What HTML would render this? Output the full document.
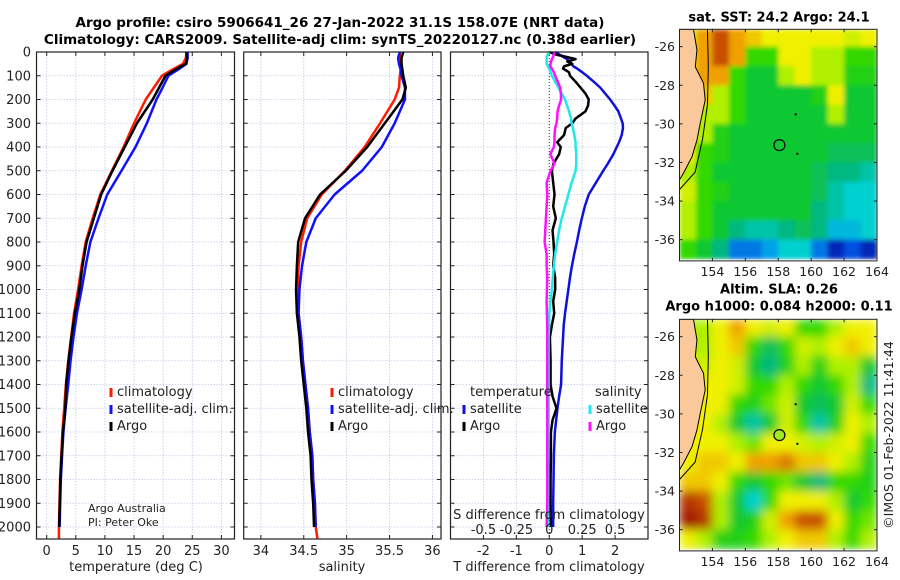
<!DOCTYPE html>
<html><head><meta charset="utf-8"><title>Argo profile</title>
<style>
html,body{margin:0;padding:0;background:#fff;}
svg{display:block;font-family:"DejaVu Sans","Liberation Sans",sans-serif;}
</style></head>
<body>
<svg id="fig" xmlns="http://www.w3.org/2000/svg" width="900" height="580" viewBox="0 0 900 580">
<defs>
<filter id="blur" x="0" y="0" width="1" height="1"><feGaussianBlur stdDeviation="5" edgeMode="duplicate"/></filter>
<filter id="blurS" x="0" y="0" width="1" height="1"><feGaussianBlur stdDeviation="2.5" edgeMode="duplicate"/></filter>
<clipPath id="clipTop"><rect x="679.5" y="29.3" width="197.5" height="231.7"/></clipPath>
<clipPath id="clipBot"><rect x="679.5" y="319.3" width="197.5" height="231.4"/></clipPath>
</defs>
<text x="340" y="27" text-anchor="middle" font-weight="bold" font-size="13.5">Argo profile: csiro 5906641_26 27-Jan-2022 31.1S 158.07E (NRT data)</text>
<text x="340" y="44" text-anchor="middle" font-weight="bold" font-size="13.5">Climatology: CARS2009. Satellite-adj clim: synTS_20220127.nc (0.38d earlier)</text>
<g id="g"></g>
</svg>
<script>
// ---------- profile data ----------
const profDepths = [0,25,50,75,100,150,200,300,400,500,600,700,800,900,1000,1100,1200,1300,1400,1500,1600,1700,1800,1900,2000,2050];
const tempClim = [24.0,23.9,23.4,21.5,19.8,18.4,17.0,15.0,13.2,11.2,9.2,7.9,6.7,6.0,5.4,4.7,4.2,3.7,3.3,3.0,2.7,2.5,2.3,2.2,2.1,2.1];
const tempSat  = [24.2,24.2,24.0,22.5,20.9,19.9,18.85,17.2,15.25,12.84,10.4,8.9,7.5,6.7,6.0,5.2,4.6,4.1,3.7,3.25,2.87,2.64,2.43,2.32,2.22,null];
const tempArgo = [24.0,24.1,23.9,22.0,20.4,19.3,18.2,15.5,13.4,11.3,9.35,8.1,6.85,6.15,5.6,4.85,4.25,3.75,3.35,3.2,2.8,2.55,2.35,2.25,2.15,null];
const salClim  = [35.62,35.62,35.63,35.63,35.62,35.61,35.56,35.39,35.21,34.98,34.71,34.54,34.47,34.44,34.43,34.44,34.47,34.49,34.52,34.55,34.57,34.60,34.61,34.63,34.64,34.66];
const salSat   = [35.62,35.60,35.61,35.63,35.64,35.68,35.68,35.56,35.41,35.18,34.86,34.64,34.53,34.48,34.45,34.44,34.47,34.49,34.52,34.55,34.57,34.60,34.61,34.63,34.64,null];
const salArgo  = [35.66,35.64,35.64,35.65,35.66,35.69,35.65,35.445,35.24,34.99,34.69,34.515,34.435,34.42,34.41,34.42,34.45,34.47,34.50,34.53,34.55,34.58,34.59,34.61,34.62,null];

const diffDepths = [0,10,20,30,40,50,60,70,85,100,125,150,175,200,225,250,280,300,320,350,380,400,430,470,500,550,600,650,700,750,800,850,900,950,1000,1050,1100,1150,1200,1300,1400,1450,1500,1550,1600,1700,1800,1900,2000];
const tDiffSat  = [0.18,0.3,0.42,0.54,0.62,0.68,0.73,0.85,1.0,1.14,1.35,1.55,1.7,1.85,1.98,2.1,2.18,2.23,2.24,2.2,2.12,2.05,1.95,1.78,1.64,1.42,1.2,1.08,0.99,0.91,0.84,0.76,0.69,0.63,0.58,0.53,0.48,0.44,0.42,0.38,0.36,0.3,0.25,0.21,0.17,0.14,0.13,0.12,0.12];
const tDiffArgo = [0,0.18,0.5,0.8,0.55,0.7,0.45,0.42,0.6,0.63,0.8,0.95,1.1,1.2,1.18,1.1,0.8,0.7,0.5,0.45,0.24,0.35,0.3,0.13,0.08,0.12,0.16,0.12,0.2,0.1,0.13,0.15,0.12,0.18,0.18,0.12,0.15,0.08,0.02,0.04,0.04,0.1,0.22,0.1,0.05,0.05,0.04,0.04,0.05];
const sDiffSat  = [0,-0.01,-0.02,-0.02,-0.02,-0.02,-0.01,0,0.01,0.02,0.045,0.07,0.095,0.12,0.135,0.15,0.165,0.17,0.18,0.19,0.2,0.2,0.205,0.205,0.2,0.17,0.145,0.12,0.095,0.075,0.06,0.045,0.035,0.027,0.02,0.01,0,0,-0.005,-0.005,-0.005,-0.005,-0.005,-0.005,-0.005,-0.008,-0.008,-0.01,-0.01];
const sDiffArgo = [0.04,0.035,0.03,0.02,0.015,0.01,0.008,0.02,0.035,0.045,0.065,0.083,0.088,0.09,0.075,0.063,0.06,0.055,0.045,0.04,0.04,0.035,0.008,0.04,0.01,-0.02,-0.015,-0.02,-0.025,-0.03,-0.035,-0.02,-0.02,-0.015,-0.018,-0.02,-0.018,-0.015,-0.015,-0.015,-0.015,-0.015,-0.015,-0.015,-0.015,-0.015,-0.015,-0.015,-0.02];

const depthTicks = [0,100,200,300,400,500,600,700,800,900,1000,1100,1200,1300,1400,1500,1600,1700,1800,1900,2000];
const tempTicks = [0,5,10,15,20,25,30];
const salTicks = [34,34.5,35,35.5,36];
const salTickLabels = ["34","34.5","35","35.5","36"];
const tDiffTicks = [-2,-1,0,1,2];
const sDiffTicks = [-0.5,-0.25,0,0.25,0.5];
const sDiffTickLabels = ["-0.5","-0.25","0","0.25","0.5"];

// ---------- map data (1-degree cells, colour level 0..11) ----------
const mapLons = [152,153,154,155,156,157,158,159,160,161,162,163];
const mapLats = [-25,-26,-27,-28,-29,-30,-31,-32,-33,-34,-35,-36];
const sstLevels = [
[8,9,10,9,8.5,8,8,8,8,8,7.5,8],
[8,9,10,9,6,6,8,8,7,7,6,6],
[8,9,9,6,5,5,7,8,7,7,5.5,5.5],
[8,8.5,7,6,5,5,5,5,5.5,8,5,5],
[8,7,7,6,5,5,5,5,5,7,5,5],
[8,7,5.5,5,5,5,5,5,5,5,5,5],
[8,6,5.5,5,5,5,5,5,5,4.5,4.5,4.5],
[7,6,5,5,5,5,5,5,4.5,4,4,3.5],
[7.5,6,5.5,5,5,5,5,5,4.5,3.5,3,3],
[7,6,5,5,5,5,5,5,4,3.5,3,3],
[7,6,5,4,3.5,3.5,4,4.5,4,2.5,2.5,3],
[6,5,4,1.5,1.5,2,3,3,1.5,0.5,1,0.5]];
const slaLevels = [
[7,7,8,9,8,7.5,8,6,6,7,8,8],
[7,7,8,8.5,6,4.5,6,7.5,7,8,8.5,8],
[7.5,7.5,8,7.5,5,4,5.5,7,5.5,7,7,5],
[8,8,8,7.5,6,6,7,6,5,6,7,4],
[8,8,8,6,5.5,6.5,7.5,5,4.5,5,7.5,6],
[8,8,7,5,3.5,5,7.5,6,3.5,5.5,8,7],
[8,8,8,7,6.5,8,8,7.5,7,7.5,8,6],
[8,8.5,8.5,8,9,9,9.5,8.5,8.5,8,7,5.5],
[8.5,8.5,8,6,5,6,6.5,5,4,6,6,5.5],
[10.5,10,7,5,3,6,8,8,8,7,5,6],
[11,10.5,7,5,5.5,7.5,9,10,10,8,6,6.5],
[8,7,5.5,5.5,6,7,8,8.5,8.5,7,6,7]];
const coastLon = [152,152.85,153.06,152.96,153.46,153.56,153.26,153.06,152.76,152.24,152.0];
const coastLat = [-25.1,-25.1,-26.17,-27.04,-27.9,-28.76,-29.97,-30.84,-31.7,-32.56,-32.9];
const isoLon = [153.7,153.75,153.7,153.4,152.95,152.0];
const isoLat = [-25.1,-27,-29,-30.8,-32.5,-33.4];
const lonTicks = [154,156,158,160,162,164];
const latTicks = [-26,-28,-30,-32,-34,-36];
const argoLon = 158.07, argoLat = -31.1;

// ---------- helpers ----------
const NS = "http://www.w3.org/2000/svg";
const G = document.getElementById('g');
function mk(tag, attrs, parent){ const e=document.createElementNS(NS,tag); for(const k in attrs) e.setAttribute(k,attrs[k]); (parent||G).appendChild(e); return e; }
const Y0=52, YB=539;
function yD(d){ return Y0 + d*0.2375; }
function scaleX(p, v){ return p.x0 + (v-p.lo)/(p.hi-p.lo)*(p.x1-p.x0); }

const panels = [
 {name:'temperature-panel', x0:36.5, x1:234.5, lo:-1.75, hi:32.25},
 {name:'salinity-panel', x0:243.7, x1:441, lo:33.8, hi:36.1},
 {name:'difference-panel', x0:450.5, x1:648, lo:-3, hi:3}
];
const sPanel = {x0:450.5, x1:648, lo:-0.75, hi:0.75};

function drawFrame(p, ticks, labels, grp){
  ticks.forEach(t=>{ const x=scaleX(p,t);
    const l=mk('line',{x1:x,y1:Y0,x2:x,y2:YB,stroke:'#c4c8e6','stroke-width':0.8,'stroke-dasharray':'1.5,1.5'},grp);
     
    const t1=mk('line',{x1:x,y1:YB,x2:x,y2:YB-4,stroke:'#222','stroke-width':1},grp);
     
    mk('line',{x1:x,y1:Y0,x2:x,y2:Y0+4,stroke:'#222','stroke-width':1},grp);
  });
  depthTicks.forEach(d=>{ const y=yD(d);
    const l=mk('line',{x1:p.x0,y1:y,x2:p.x1,y2:y,stroke:'#c4c8e6','stroke-width':0.8,'stroke-dasharray':'1.5,1.5'},grp);
     
    mk('line',{x1:p.x0,y1:y,x2:p.x0+4,y2:y,stroke:'#222','stroke-width':1},grp);
    mk('line',{x1:p.x1,y1:y,x2:p.x1-4,y2:y,stroke:'#222','stroke-width':1},grp);
  });
  if(labels){ ticks.forEach((t,i)=>{ const tx=mk('text',{x:scaleX(p,t),y:555,'text-anchor':'middle','font-size':13,fill:'#222'},grp); tx.textContent=labels[i];
      }); }
}
function drawLine(p, xs, ds, color, w, grp, name){
  let pts=[];
  xs.forEach((v,i)=>{ if(v!==null && v!==undefined) pts.push(scaleX(p,v).toFixed(2)+','+yD(ds[i]).toFixed(2)); });
  const e=mk('polyline',{points:pts.join(' '),fill:'none',stroke:color,'stroke-width':w,'stroke-linejoin':'round'},grp);
   
}
function legend(x,y,color,label,grp,name){
  const l=mk('line',{x1:x,y1:y-8,x2:x,y2:y+1,stroke:color,'stroke-width':3},grp);
   
  const t=mk('text',{x:x+6,y:y,'font-size':13,fill:'#222'},grp); t.textContent=label;
   
}

// ---------- panel 1: temperature ----------
const g1=mk('g',{});  
drawFrame(panels[0], tempTicks, tempTicks.map(String), g1);
drawLine(panels[0], tempClim, profDepths, '#ff1a00', 2.5, g1, 'temperature-climatology-line');
drawLine(panels[0], tempSat, profDepths, '#1010ff', 2.5, g1, 'temperature-satellite-line');
drawLine(panels[0], tempArgo, profDepths, '#000', 2.5, g1, 'temperature-argo-line');
mk('rect',{x:panels[0].x0,y:Y0,width:panels[0].x1-panels[0].x0,height:YB-Y0,fill:'none',stroke:'#222','stroke-width':1.2},g1);
depthTicks.forEach(d=>{ const t=mk('text',{x:31,y:yD(d)+4.5,'text-anchor':'end','font-size':13,fill:'#222'},g1); t.textContent=String(d);
    });
legend(111,396,'#ff1a00','climatology',g1,'legend-climatology');
legend(111,413,'#1010ff','satellite-adj. clim.',g1,'legend-satellite-adj');
legend(111,430,'#000','Argo',g1,'legend-argo');
let tt=mk('text',{x:88,y:512,'font-size':11,fill:'#222'},g1); tt.textContent='Argo Australia';  
tt=mk('text',{x:88,y:526,'font-size':11,fill:'#222'},g1); tt.textContent='PI: Peter Oke';  
tt=mk('text',{x:136,y:571,'text-anchor':'middle','font-size':13,fill:'#222'},g1); tt.textContent='temperature (deg C)';  

// ---------- panel 2: salinity ----------
const g2=mk('g',{});  
drawFrame(panels[1], salTicks, salTickLabels, g2);
drawLine(panels[1], salClim, profDepths, '#ff1a00', 2.5, g2, 'salinity-climatology-line');
drawLine(panels[1], salSat, profDepths, '#1010ff', 2.5, g2, 'salinity-satellite-line');
drawLine(panels[1], salArgo, profDepths, '#000', 2.5, g2, 'salinity-argo-line');
mk('rect',{x:panels[1].x0,y:Y0,width:panels[1].x1-panels[1].x0,height:YB-Y0,fill:'none',stroke:'#222','stroke-width':1.2},g2);
legend(332,396,'#ff1a00','climatology',g2,'legend-climatology');
legend(332,413,'#1010ff','satellite-adj. clim.',g2,'legend-satellite-adj');
legend(332,430,'#000','Argo',g2,'legend-argo');
tt=mk('text',{x:342,y:571,'text-anchor':'middle','font-size':13,fill:'#222'},g2); tt.textContent='salinity';  

// ---------- panel 3: differences ----------
const g3=mk('g',{});  
drawFrame(panels[2], tDiffTicks, tDiffTicks.map(String), g3);
const zx=scaleX(panels[2],0);
mk('line',{x1:zx,y1:Y0,x2:zx,y2:YB,stroke:'#333','stroke-width':1,'stroke-dasharray':'1,2'},g3);
drawLine(panels[2], tDiffSat, diffDepths, '#1010dd', 2.5, g3, 'tdiff-satellite-line');
drawLine(panels[2], tDiffArgo, diffDepths, '#000', 2.5, g3, 'tdiff-argo-line');
drawLine(sPanel, sDiffSat, diffDepths, '#22e8e8', 2.5, g3, 'sdiff-satellite-line');
drawLine(sPanel, sDiffArgo, diffDepths, '#ff10ff', 2.5, g3, 'sdiff-argo-line');
mk('rect',{x:panels[2].x0,y:Y0,width:panels[2].x1-panels[2].x0,height:YB-Y0,fill:'none',stroke:'#222','stroke-width':1.2},g3);
tt=mk('text',{x:470,y:396,'font-size':13,fill:'#222'},g3); tt.textContent='temperature';  
tt=mk('text',{x:595,y:396,'font-size':13,fill:'#222'},g3); tt.textContent='salinity';  
legend(464,413,'#1010dd','satellite',g3,'legend-tdiff-satellite');
legend(464,430,'#000','Argo',g3,'legend-tdiff-argo');
legend(590,413,'#22e8e8','satellite',g3,'legend-sdiff-satellite');
legend(590,430,'#ff10ff','Argo',g3,'legend-sdiff-argo');
tt=mk('text',{x:549,y:519,'text-anchor':'middle','font-size':13,fill:'#222'},g3); tt.textContent='S difference from climatology';  
sDiffTicks.forEach((s,i)=>{ const t=mk('text',{x:scaleX(sPanel,s),y:534,'text-anchor':'middle','font-size':13,fill:'#222'},g3); t.textContent=sDiffTickLabels[i];
    });
tt=mk('text',{x:549,y:571,'text-anchor':'middle','font-size':13,fill:'#222'},g3); tt.textContent='T difference from climatology';  

// ---------- maps ----------
const cmapStops = ['#000090','#0050e0','#00a0e8','#00d0d0','#00b880','#10c830','#30d800','#b0f000','#f0f000','#f0a000','#c85000','#a01800'];
function hex(c){ return [parseInt(c.substr(1,2),16),parseInt(c.substr(3,2),16),parseInt(c.substr(5,2),16)]; }
function cmap(v){ v=Math.max(0,Math.min(11,v)); const i=Math.min(10,Math.floor(v)), f=v-i; const a=hex(cmapStops[i]), b=hex(cmapStops[i+1]);
  return 'rgb('+a.map((x,k)=>Math.round(x+(b[k]-x)*f)).join(',')+')'; }
function drawMap(top, levels, name, filt, title1, title2, fillCircle){
  const m={x0:679.5,x1:877,y0:top,y1:top+231.6,lon0:152,lon1:164,lat0:-25.1,lat1:-37.1};
  const lx=lon=>m.x0+(lon-m.lon0)/(m.lon1-m.lon0)*(m.x1-m.x0);
  const ly=lat=>m.y0+(lat-m.lat0)/(m.lat1-m.lat0)*(m.y1-m.y0);
  const g=mk('g',{});  
  const cg=mk('g',{'clip-path':'url(#'+(top<100?'clipTop':'clipBot')+')'},g);
  const hg=mk('g',{filter:'url(#'+filt+')'},cg);
  levels.forEach((row,r)=>row.forEach((v,c)=>{
    const x=lx(mapLons[c]), y=ly(Math.min(mapLats[r],m.lat0)), y2=ly(mapLats[r]-1);
    const e=mk('rect',{x:x,y:y,width:lx(mapLons[c]+1)-x+0.5,height:y2-y+0.5,fill:cmap(v)},hg);
     
  }));
  const landPts=coastLon.map((lo,i)=>lx(lo)+','+ly(coastLat[i])).join(' ');
  const land=mk('polygon',{points:landPts,fill:'#f9c89b',stroke:'#000','stroke-width':1},cg);
   
  const iso=mk('polyline',{points:isoLon.map((lo,i)=>lx(lo)+','+ly(isoLat[i])).join(' '),fill:'none',stroke:'#000','stroke-width':1},cg);
   
  mk('rect',{x:lx(159.0),y:ly(-29.45),width:2,height:2,fill:'#000'},cg);
  mk('rect',{x:lx(159.1),y:ly(-31.5),width:2,height:2,fill:'#000'},cg);
  const circ=mk('circle',{cx:lx(argoLon),cy:ly(argoLat),r:5.5,fill:fillCircle?'#a0e820':'none',stroke:'#000','stroke-width':1.2},g);
   
  mk('rect',{x:m.x0,y:m.y0,width:m.x1-m.x0,height:m.y1-m.y0,fill:'none',stroke:'#222','stroke-width':1},g);
  lonTicks.forEach(lo=>{ const x=lx(lo);
    mk('line',{x1:x,y1:m.y1,x2:x,y2:m.y1-3,stroke:'#222'},g); mk('line',{x1:x,y1:m.y0,x2:x,y2:m.y0+3,stroke:'#222'},g);
    const t=mk('text',{x:x,y:m.y1+15,'text-anchor':'middle','font-size':12.5,fill:'#222'},g); t.textContent=String(lo);
      });
  latTicks.forEach(la=>{ const y=ly(la);
    mk('line',{x1:m.x0,y1:y,x2:m.x0+3,y2:y,stroke:'#222'},g); mk('line',{x1:m.x1,y1:y,x2:m.x1-3,y2:y,stroke:'#222'},g);
    const t=mk('text',{x:675,y:y+4.5,'text-anchor':'end','font-size':12.5,fill:'#222'},g); t.textContent=String(la);
      });
  let t=mk('text',{x:779,y:title2?top-26:top-8,'text-anchor':'middle','font-size':13,'font-weight':'bold'},g); t.textContent=title1;
   
  if(title2){ t=mk('text',{x:779,y:top-9,'text-anchor':'middle','font-size':13,'font-weight':'bold'},g); t.textContent=title2;
      }
}
drawMap(29.3, sstLevels, 'sst-map', 'blurS', 'sat. SST: 24.2 Argo: 24.1', null, false);
drawMap(319.3, slaLevels, 'sla-map', 'blur', 'Altim. SLA: 0.26', 'Argo h1000: 0.084 h2000: 0.11', true);
tt=mk('text',{x:893,y:435,'text-anchor':'middle','font-size':12.5,fill:'#222',transform:'rotate(-90 893 435)'}); tt.textContent='©IMOS 01-Feb-2022 11:41:44';
 
</script>
</body></html>
